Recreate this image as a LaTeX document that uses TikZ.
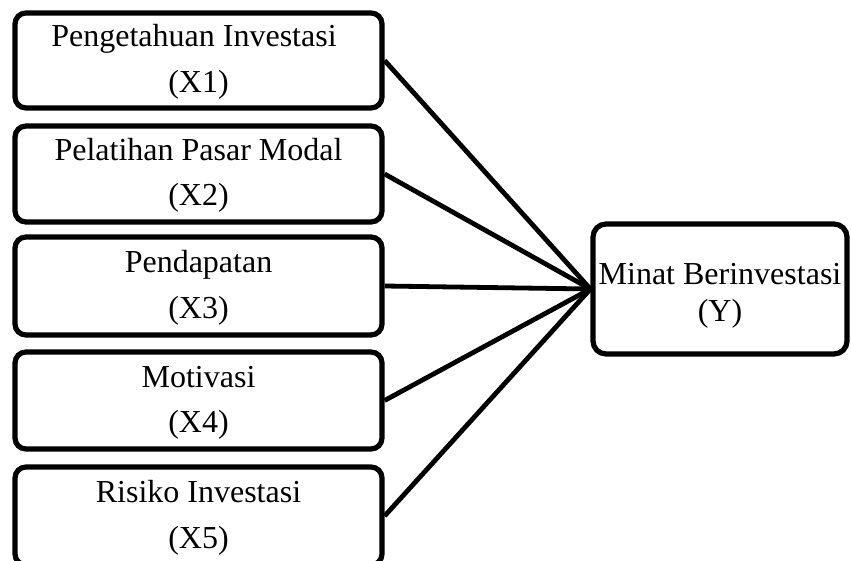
\documentclass[tikz,border=0pt]{standalone}
\usepackage{fontspec}
\setmainfont{Liberation Serif}
\begin{document}
\begin{tikzpicture}[x=0.5pt,y=-0.5pt,
  box/.style={draw, line width=2.6pt, rounded corners=5.5pt, minimum width=183.5pt, inner sep=0pt},
  ybox/.style={draw, line width=2.6pt, rounded corners=6.5pt, minimum width=127pt, minimum height=65pt, inner sep=0pt},
  lbl/.style={anchor=base, inner sep=0pt, font=\fontsize{16}{19}\selectfont},
  link/.style={line width=2.4pt}]
\useasboundingbox (0,0) rectangle (851,561);
\clip (0,0) rectangle (851,561);
% boxes
\node[box, minimum height=47.5pt] (x1) at (198.5,60.5) {};
\node[box, minimum height=48pt]   (x2) at (198.5,174) {};
\node[box, minimum height=49pt]   (x3) at (198.5,286) {};
\node[box, minimum height=48.5pt] (x4) at (198.5,400.5) {};
\node[box, minimum height=49pt]   (x5) at (198.5,516) {};
\node[ybox] (y) at (720,289) {};
% texts
\node[lbl] (t1a) at (194,47) {Pengetahuan Investasi};
\node[lbl] (t1b) at (198.5,92.5) {(X1)};
\node[lbl] (t2a) at (198.5,160.7) {Pelatihan Pasar Modal};
\node[lbl] (t2b) at (198.5,206) {(X2)};
\node[lbl] (t3a) at (198.5,272.7) {Pendapatan};
\node[lbl] (t3b) at (198.5,318) {(X3)};
\node[lbl] (t4a) at (198.5,387.2) {Motivasi};
\node[lbl] (t4b) at (198.5,432.5) {(X4)};
\node[lbl] (t5a) at (198.5,502) {Risiko Investasi};
\node[lbl] (t5b) at (198.5,548) {(X5)};
\node[lbl] (tya) at (720,285) {Minat Berinvestasi};
\node[lbl] (tyb) at (720,321.7) {(Y)};
% connectors
\draw[link] (x1.east) -- (y.west);
\draw[link] (x2.east) -- (y.west);
\draw[link] (x3.east) -- (y.west);
\draw[link] (x4.east) -- (y.west);
\draw[link] (x5.east) -- (y.west);
\end{tikzpicture}
\end{document}
